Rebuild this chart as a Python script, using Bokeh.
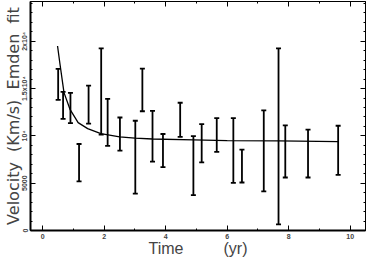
from bokeh.plotting import figure
from bokeh.models import (ColumnDataSource, Whisker, TeeHead, LinearAxis, Range1d,
                          FixedTicker, CustomJSTickFormatter)
from bokeh.embed import file_html
from bokeh.resources import INLINE

# ---- data ----
time = [0.50, 0.66, 0.90, 1.18, 1.49, 1.90, 2.11, 2.51, 3.01, 3.24, 3.57, 3.91,
        4.47, 4.90, 5.17, 5.66, 6.20, 6.48, 7.19, 7.67, 7.89, 8.63, 9.61]
vel_upper = [17070, 14640, 14540, 9140, 15300, 19240, 13900, 11940, 11600, 17100,
             12640, 10200, 13500, 9970, 11240, 11870, 11870, 8540, 12700, 19240,
             11100, 10670, 11070]
vel_lower = [13800, 11800, 11340, 5200, 11300, 10140, 8940, 8440, 3900, 12600,
             7270, 6700, 9900, 3740, 7200, 8300, 5040, 5070, 4140, 640,
             5600, 5600, 5870]

fit_time = [0.48, 0.56, 0.69, 0.89, 1.15, 1.46, 1.89, 2.5, 3.0, 3.57, 4.9, 6.0, 7.67, 9.61]
fit_velocity = [19500, 17570, 14570, 12770, 11400, 10770, 10240, 9900, 9770, 9670,
                9570, 9500, 9470, 9400]

x_major = [0, 2, 4, 6, 8, 10]
x_minor = [1, 3, 5, 7, 9]
y_major = [0, 5000, 10000, 15000, 20000]
y_minor = list(range(0, 25000, 1000))
y_labels = {0: "0", 5000: "5000", 10000: "10⁴", 15000: "1.5x10⁴", 20000: "2x10⁴"}
x_title = "Time\u00a0\u00a0\u00a0\u00a0\u00a0\u00a0\u00a0\u00a0\u00a0(yr)"
y_title = "Velocity\u00a0\u00a0(Km/s)\u00a0\u00a0Emden\u00a0\u00a0fit"

p = figure(width=366, height=259, output_backend="svg", toolbar_location=None,
           x_range=Range1d(-0.4, 10.5), y_range=Range1d(0, 24200),
           min_border_left=0, min_border_right=1, min_border_top=1, min_border_bottom=0)
p.xgrid.visible = False
p.ygrid.visible = False
p.outline_line_color = "black"
p.outline_line_width = 1
p.background_fill_color = "white"
p.border_fill_color = "white"

src = ColumnDataSource(dict(t=time, hi=vel_upper, lo=vel_lower))
w = Whisker(base="t", upper="hi", lower="lo", source=src, line_color="black",
            line_width=1.8,
            upper_head=TeeHead(size=5, line_width=1.8, line_color="black"),
            lower_head=TeeHead(size=5, line_width=1.8, line_color="black"))
p.add_layout(w)

p.line(fit_time, fit_velocity, line_color="black", line_width=1.3)

def style_axis(ax, ticks, minor):
    ax.ticker = FixedTicker(ticks=ticks, minor_ticks=minor)
    ax.major_tick_in = 5
    ax.major_tick_out = 0
    ax.minor_tick_in = 2
    ax.minor_tick_out = 0
    ax.major_tick_line_color = "black"
    ax.minor_tick_line_color = "black"
    ax.axis_line_color = "black"

# bottom
xa = p.xaxis[0]
style_axis(xa, x_major, x_minor)
xa.axis_line_width = 2
xa.major_label_text_font = "Liberation Sans"
xa.major_label_text_font_style = "bold"
xa.major_label_text_font_size = "7px"
xa.major_label_standoff = 3
xa.axis_label = x_title
xa.axis_label_text_font = "Liberation Sans"
xa.axis_label_text_font_style = "normal"
xa.axis_label_text_font_size = "16px"
xa.axis_label_standoff = -2

# left
ya = p.yaxis[0]
style_axis(ya, y_major, y_minor)
ya.axis_line_width = 2
ya.major_label_overrides = y_labels
ya.major_label_orientation = "vertical"
ya.major_label_text_font = "Liberation Sans"
ya.major_label_text_font_style = "bold"
ya.major_label_text_font_size = "7px"
ya.major_label_standoff = 2
ya.axis_label = y_title
ya.axis_label_text_font = "DejaVu Sans"
ya.axis_label_text_font_style = "normal"
ya.axis_label_text_font_size = "16px"
ya.axis_label_standoff = -4

# top and right axes (ticks only)
empty = CustomJSTickFormatter(code="return ''")
top = LinearAxis(formatter=empty, major_label_standoff=0, major_label_text_font_size="0px")
style_axis(top, x_major, x_minor)
top.axis_line_width = 1
p.add_layout(top, "above")
right = LinearAxis(formatter=empty, major_label_standoff=0, major_label_text_font_size="0px")
style_axis(right, y_major, y_minor)
right.axis_line_width = 1
p.add_layout(right, "right")

open("out.html", "w").write(file_html(p, INLINE))
